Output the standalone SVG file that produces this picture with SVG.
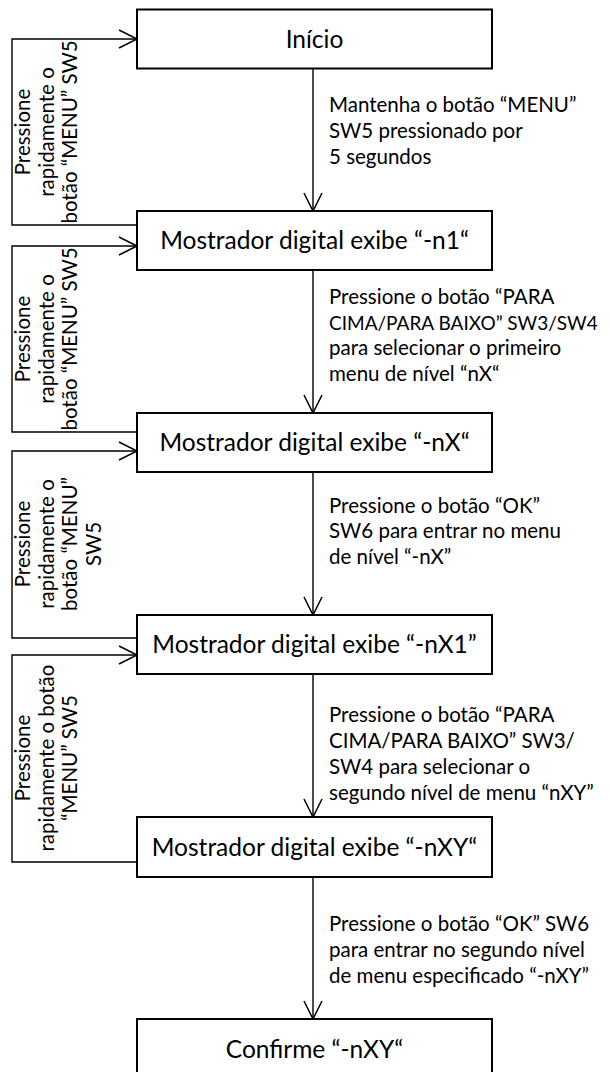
<svg xmlns="http://www.w3.org/2000/svg" width="610" height="1072" viewBox="0 0 610 1072">
<defs>
<style>
.box{fill:#fff;stroke:#000;stroke-width:2}
.bt{font-family:Lato,"Liberation Sans",sans-serif;font-size:24.5px;text-anchor:middle;fill:#000}
.lt{font-family:Lato,"Liberation Sans",sans-serif;font-size:20.5px;fill:#000}
.rt{font-family:Lato,"Liberation Sans",sans-serif;font-size:20.5px;fill:#000;text-anchor:middle}
.c{fill:none;stroke:#000;stroke-width:1.4}
</style>
<marker id="ah" viewBox="-20 -11 22 22" refX="0" refY="0" markerWidth="22" markerHeight="22" orient="auto" markerUnits="userSpaceOnUse">
<path d="M-18,-9 L0,0 L-18,9" fill="none" stroke="#000" stroke-width="1.5"/>
</marker>
</defs>
<rect width="610" height="1072" fill="#fff"/>
<g id="connectors">
<path class="c" d="M313,69 V211" marker-end="url(#ah)"/>
<path class="c" d="M313,270 V413" marker-end="url(#ah)"/>
<path class="c" d="M313,472 V615" marker-end="url(#ah)"/>
<path class="c" d="M313,674 V817" marker-end="url(#ah)"/>
<path class="c" d="M313,877 V1019" marker-end="url(#ah)"/>
<path class="c" d="M137,225 H12 V39 H137" marker-end="url(#ah)"/>
<path class="c" d="M137,432 H12 V246 H137" marker-end="url(#ah)"/>
<path class="c" d="M137,638 H12 V451 H137" marker-end="url(#ah)"/>
<path class="c" d="M137,862 H12 V655 H137" marker-end="url(#ah)"/>
<text class="lt"><tspan x="329" y="112">Mantenha o botão “MENU”</tspan><tspan x="329" y="138">SW5 pressionado por</tspan><tspan x="329" y="164">5 segundos</tspan></text>
<text class="lt"><tspan x="329" y="304">Pressione o botão “PARA</tspan></text>
<text class="lt" style="font-size:19px"><tspan x="329" y="330">CIMA/PARA BAIXO” SW3/SW4</tspan></text>
<text class="lt"><tspan x="329" y="355">para selecionar o primeiro</tspan><tspan x="329" y="381">menu de nível “nX“</tspan></text>
<text class="lt"><tspan x="329" y="513">Pressione o botão “OK”</tspan><tspan x="329" y="538">SW6 para entrar no menu</tspan><tspan x="329" y="564">de nível “-nX”</tspan></text>
<text class="lt"><tspan x="329" y="722">Pressione o botão “PARA</tspan><tspan x="329" y="748">CIMA/PARA BAIXO” SW3/</tspan><tspan x="329" y="774">SW4 para selecionar o</tspan><tspan x="329" y="800">segundo nível de menu “nXY”</tspan></text>
<text class="lt"><tspan x="329" y="931">Pressione o botão “OK” SW6</tspan><tspan x="329" y="957">para entrar no segundo nível</tspan><tspan x="329" y="983">de menu especificado “-nXY”</tspan></text>
<g transform="translate(0,132)">
<text class="rt" transform="translate(30,0) rotate(-90)">Pressione</text>
<text class="rt" transform="translate(53.5,0) rotate(-90)">rapidamente o</text>
<text class="rt" transform="translate(77,0) rotate(-90)">botão “MENU” SW5</text>
</g>
<g transform="translate(0,339)">
<text class="rt" transform="translate(30,0) rotate(-90)">Pressione</text>
<text class="rt" transform="translate(53.5,0) rotate(-90)">rapidamente o</text>
<text class="rt" transform="translate(77,0) rotate(-90)">botão “MENU” SW5</text>
</g>
<g transform="translate(0,544)">
<text class="rt" transform="translate(30,0) rotate(-90)">Pressione</text>
<text class="rt" transform="translate(53.5,0) rotate(-90)">rapidamente o</text>
<text class="rt" transform="translate(77,0) rotate(-90)">botão “MENU”</text>
<text class="rt" transform="translate(100.5,0) rotate(-90)">SW5</text>
</g>
<g transform="translate(0,758)">
<text class="rt" transform="translate(30,0) rotate(-90)">Pressione</text>
<text class="rt" transform="translate(53.5,0) rotate(-90)">rapidamente o botão</text>
<text class="rt" transform="translate(77,0) rotate(-90)">“MENU” SW5</text>
</g>
</g>
<g id="n1"><rect class="box" x="137" y="9.5" width="355" height="59"/><text class="bt" x="314.5" y="47.5">Início</text></g>
<g id="n2"><rect class="box" x="137" y="211" width="355" height="59"/><text class="bt" x="314.5" y="249">Mostrador digital exibe “-n1“</text></g>
<g id="n3"><rect class="box" x="137" y="413" width="355" height="59"/><text class="bt" x="314.5" y="451">Mostrador digital exibe “-nX“</text></g>
<g id="n4"><rect class="box" x="137" y="615" width="355" height="59"/><text class="bt" x="314.5" y="653">Mostrador digital exibe “-nX1”</text></g>
<g id="n5"><rect class="box" x="137" y="817" width="355" height="60"/><text class="bt" x="314.5" y="856">Mostrador digital exibe “-nXY“</text></g>
<g id="n6"><rect class="box" x="137" y="1019" width="355" height="60"/><text class="bt" x="314.5" y="1058">Confirme “-nXY“</text></g>
</svg>
